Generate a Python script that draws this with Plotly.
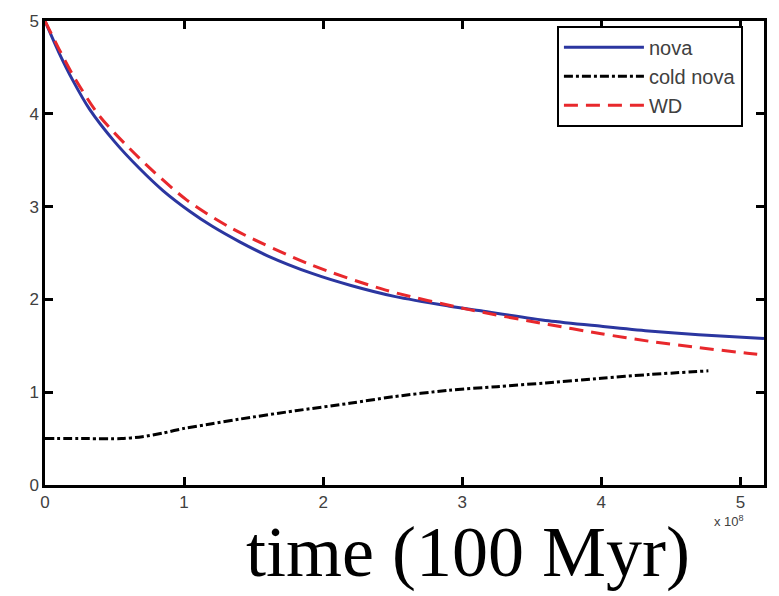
import plotly.graph_objects as go

# time in units of 1e8 yr
nova_t = [0, 0.1, 0.2, 0.32, 0.5, 0.68, 0.85, 1.04, 1.2, 1.4, 1.6, 1.92, 2.2, 2.52, 2.9, 3.12, 3.62, 4.0, 4.34, 4.7, 5.17]
nova_v = [5.0, 4.66, 4.36, 4.05, 3.70, 3.41, 3.17, 2.95, 2.79, 2.62, 2.47, 2.28, 2.15, 2.03, 1.93, 1.88, 1.77, 1.71, 1.66, 1.62, 1.58]

cold_t = [0, 0.3, 0.55, 0.7, 0.85, 1.0, 1.2, 1.4, 1.8, 2.19, 2.5, 2.9, 3.25, 3.6, 4.0, 4.34, 4.77]
cold_v = [0.5, 0.5, 0.5, 0.52, 0.56, 0.61, 0.66, 0.71, 0.80, 0.88, 0.95, 1.02, 1.06, 1.10, 1.15, 1.19, 1.23]

wd_t = [0, 0.1, 0.2, 0.39, 0.68, 1.02, 1.35, 1.9, 2.45, 3.05, 3.62, 4.0, 4.34, 4.7, 5.05, 5.17]
wd_v = [5.0, 4.70, 4.42, 3.98, 3.52, 3.07, 2.76, 2.38, 2.10, 1.89, 1.73, 1.63, 1.55, 1.48, 1.42, 1.40]

x_ticks = [0, 1, 2, 3, 4, 5]
y_ticks = [0, 1, 2, 3, 4, 5]

fig = go.Figure()
fig.add_trace(go.Scatter(x=nova_t, y=nova_v, mode="lines", name="nova",
                         line=dict(color="#2b36a0", width=3, shape="spline", smoothing=0.8)))
fig.add_trace(go.Scatter(x=cold_t, y=cold_v, mode="lines", name="cold nova",
                         line=dict(color="black", width=3, dash="dashdot", shape="spline", smoothing=0.8)))
fig.add_trace(go.Scatter(x=wd_t, y=wd_v, mode="lines", name="WD",
                         line=dict(color="#e8282c", width=3, dash="14px,8px", shape="spline", smoothing=0.8)))

axis_common = dict(showline=True, linecolor="black", linewidth=2.5, mirror="ticks",
                   ticks="inside", ticklen=8, tickwidth=2.5, tickcolor="black",
                   showgrid=False, zeroline=False,
                   tickfont=dict(family="Liberation Sans, Arial", size=17, color="#404040"))

fig.update_xaxes(range=[0, 5.17], tickvals=x_ticks, ticktext=[str(v) for v in x_ticks], **axis_common)
fig.update_yaxes(range=[0, 5], tickvals=y_ticks, ticktext=[str(v) for v in y_ticks], **axis_common)

fig.update_layout(
    width=779, height=596,
    margin=dict(l=45, r=15, t=17, b=111),
    paper_bgcolor="white", plot_bgcolor="white",
    showlegend=True,
    legend=dict(x=0.712, y=0.99, xanchor="left", yanchor="top",
                bordercolor="black", borderwidth=2, bgcolor="white",
                font=dict(family="Liberation Sans, Arial", size=20, color="#404040"),
                tracegroupgap=0, itemwidth=80),
    annotations=[
        dict(text="time (100 Myr)", xref="paper", yref="paper", x=0.588, y=0,
             xanchor="center", yanchor="top", yshift=-25, showarrow=False,
             font=dict(family="Liberation Serif, Times New Roman", size=72, color="black")),
        dict(text="x 10<sup>8</sup>", xref="paper", yref="paper", x=0.928, y=0,
             xanchor="left", yanchor="top", yshift=-26, showarrow=False,
             font=dict(family="Liberation Sans, Arial", size=13, color="#404040")),
    ],
)

fig.write_html("out.html")
